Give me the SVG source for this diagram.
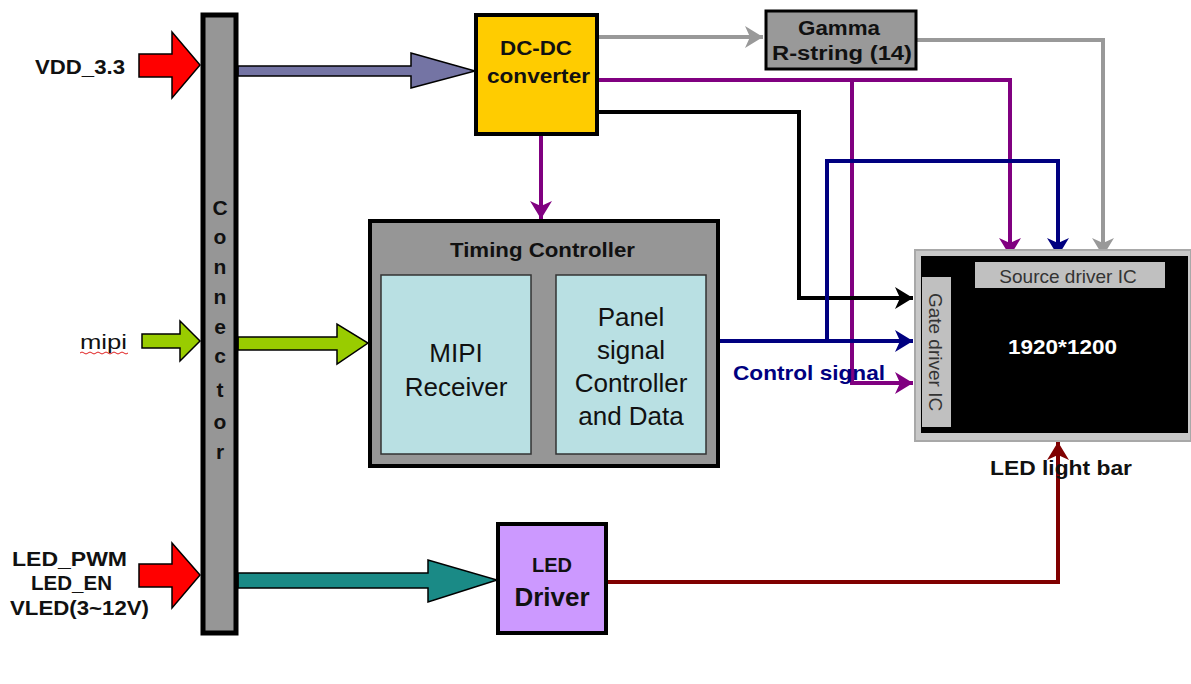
<svg xmlns="http://www.w3.org/2000/svg" width="1191" height="684" viewBox="0 0 1191 684">
<style>
text{font-family:"Liberation Sans",Arial,sans-serif;}
.b{font-weight:bold;fill:#111;}
.lbl{font-size:21px;font-weight:bold;fill:#111;}
.n{fill:#111;}
.box{stroke:#000;stroke-width:4;}
.ln{fill:none;stroke-width:4;stroke-linejoin:miter;}
.big{stroke:#000;stroke-width:1.5;stroke-linejoin:miter;}
</style>
<defs>
<marker id="aG" markerUnits="userSpaceOnUse" markerWidth="20" markerHeight="22" refX="18" refY="11" orient="auto"><path d="M0,0 L18,11 L0,22 L5,11 z" fill="#999"/></marker>
<marker id="aP" markerUnits="userSpaceOnUse" markerWidth="20" markerHeight="22" refX="18" refY="11" orient="auto"><path d="M0,0 L18,11 L0,22 L5,11 z" fill="#800080"/></marker>
<marker id="aK" markerUnits="userSpaceOnUse" markerWidth="20" markerHeight="22" refX="18" refY="11" orient="auto"><path d="M0,0 L18,11 L0,22 L5,11 z" fill="#000"/></marker>
<marker id="aN" markerUnits="userSpaceOnUse" markerWidth="20" markerHeight="22" refX="18" refY="11" orient="auto"><path d="M0,0 L18,11 L0,22 L5,11 z" fill="#000080"/></marker>
<marker id="aR" markerUnits="userSpaceOnUse" markerWidth="20" markerHeight="22" refX="18" refY="11" orient="auto"><path d="M0,0 L18,11 L0,22 L5,11 z" fill="#800000"/></marker>
</defs>

<g id="connectors">
  <path class="big" fill="#ff0000" d="M139,54 L172,54 L172,32 L200,65 L172,98 L172,77 L139,77 z"/>
  <path class="big" fill="#7474a4" d="M238,66 L411,66 L411,53 L475,71 L411,88 L411,76 L238,76 z"/>
  <path class="big" fill="#99cc00" d="M142,334 L180,334 L180,321 L200,341 L180,361 L180,348 L142,348 z"/>
  <path class="big" fill="#99cc00" d="M238,337 L337,337 L337,324 L368,343 L337,364 L337,350 L238,350 z"/>
  <path class="big" fill="#ff0000" d="M139,564 L172,564 L172,543 L200,575 L172,608 L172,587 L139,587 z"/>
  <path class="big" fill="#1a8a86" d="M238,573 L428,573 L428,560 L497,580 L428,602 L428,588 L238,588 z"/>
  <path class="ln" stroke="#999" d="M598,37 L763,37" marker-end="url(#aG)"/>
  <path class="ln" stroke="#999" d="M917,40 L1103,40 L1103,256" marker-end="url(#aG)"/>
  <path class="ln" stroke="#800080" d="M598,80 L1010,80 L1010,256" marker-end="url(#aP)"/>
  <path class="ln" stroke="#800080" d="M852,80 L852,383 L913,383" marker-end="url(#aP)"/>
  <path class="ln" stroke="#800080" d="M541,135 L541,219" marker-end="url(#aP)"/>
  <path class="ln" stroke="#000" d="M598,112 L799,112 L799,298 L913,298" marker-end="url(#aK)"/>
  <path class="ln" stroke="#000080" d="M718,341 L913,341" marker-end="url(#aN)"/>
  <path class="ln" stroke="#000080" d="M827,341 L827,161 L1058,161 L1058,256" marker-end="url(#aN)"/>
  <path class="ln" stroke="#800000" stroke-width="5" d="M607,582 L1058,582 L1058,442" marker-end="url(#aR)"/>
  <text x="733" y="380" font-size="21" font-weight="bold" fill="#000080" textLength="152" lengthAdjust="spacingAndGlyphs">Control signal</text>
</g>

<g id="labels">
  <text class="lbl" x="35" y="74" textLength="90" lengthAdjust="spacingAndGlyphs">VDD_3.3</text>
  <text x="80" y="349" font-size="21" class="n" textLength="47" lengthAdjust="spacingAndGlyphs">mipi</text>
  <path d="M80,353 q2,-2 4,0 t4,0 t4,0 t4,0 t4,0 t4,0 t4,0 t4,0 t4,0 t4,0 t4,0 t4,0" fill="none" stroke="#e02020" stroke-width="1"/>
  <text class="lbl" x="12" y="566" textLength="115" lengthAdjust="spacingAndGlyphs">LED_PWM</text>
  <text class="lbl" x="31" y="590" textLength="81" lengthAdjust="spacingAndGlyphs">LED_EN</text>
  <text class="lbl" x="10" y="615" textLength="139" lengthAdjust="spacingAndGlyphs">VLED(3~12V)</text>
</g>

<g id="connector">
  <rect x="203" y="15" width="33" height="618" fill="#969696" stroke="#000" stroke-width="5"/>
  <g class="b" font-size="21" text-anchor="middle">
    <text x="220" y="215">C</text><text x="220" y="244">o</text><text x="220" y="274">n</text>
    <text x="220" y="304">n</text><text x="220" y="334">e</text><text x="220" y="363">c</text>
    <text x="220" y="397">t</text><text x="220" y="429">o</text><text x="220" y="459">r</text>
  </g>
</g>

<g id="dcdc">
  <rect class="box" x="476" y="15" width="121" height="119" fill="#ffcc00"/>
  <text class="b" x="500" y="55" font-size="20" textLength="72" lengthAdjust="spacingAndGlyphs">DC-DC</text>
  <text class="b" x="487" y="83" font-size="20" textLength="103" lengthAdjust="spacingAndGlyphs">converter</text>
</g>

<g id="gamma">
  <rect x="766" y="11" width="150" height="58" fill="#999" stroke="#000" stroke-width="3"/>
  <text class="b" x="798" y="35" font-size="20" textLength="82" lengthAdjust="spacingAndGlyphs">Gamma</text>
  <text class="b" x="772" y="60" font-size="20" textLength="140" lengthAdjust="spacingAndGlyphs">R-string (14)</text>
</g>

<g id="tcon">
  <rect class="box" x="370" y="221" width="348" height="245" fill="#969696"/>
  <text class="b" x="450" y="257" font-size="20" textLength="185" lengthAdjust="spacingAndGlyphs">Timing Controller</text>
  <g id="mipi-rx">
    <rect x="381" y="275" width="150" height="179" fill="#b9e0e3" stroke="#333" stroke-width="1.5"/>
    <text x="456" y="362" font-size="26" text-anchor="middle" class="n">MIPI</text>
    <text x="456" y="396" font-size="26" text-anchor="middle" class="n">Receiver</text>
  </g>
  <g id="panel-ctrl">
    <rect x="556" y="275" width="150" height="179" fill="#b9e0e3" stroke="#333" stroke-width="1.5"/>
    <text x="631" y="326" font-size="26" text-anchor="middle" class="n">Panel</text>
    <text x="631" y="359" font-size="26" text-anchor="middle" class="n">signal</text>
    <text x="631" y="392" font-size="26" text-anchor="middle" class="n">Controller</text>
    <text x="631" y="425" font-size="26" text-anchor="middle" class="n">and Data</text>
  </g>
</g>

<g id="panel">
  <rect x="915" y="250" width="276" height="191" fill="#c8c8c8" stroke="#a8a8a8" stroke-width="2"/>
  <rect x="921" y="256" width="267" height="177" fill="#000"/>
  <g id="source-ic">
    <rect x="975" y="262" width="190" height="26" fill="#c0c0c0"/>
    <text x="1068" y="283" font-size="19" text-anchor="middle" fill="#333">Source driver IC</text>
  </g>
  <g id="gate-ic">
    <rect x="922" y="277" width="29" height="150" fill="#c0c0c0"/>
    <text transform="translate(929,352) rotate(90)" font-size="19" text-anchor="middle" fill="#333">Gate driver IC</text>
  </g>
  <text x="1008" y="354" font-size="21" font-weight="bold" fill="#fff" textLength="109" lengthAdjust="spacingAndGlyphs">1920*1200</text>
  <text class="b" x="990" y="475" font-size="21" textLength="142" lengthAdjust="spacingAndGlyphs">LED light bar</text>
</g>

<g id="led-driver">
  <rect class="box" x="498" y="524" width="108" height="109" fill="#cc99ff"/>
  <text class="b" x="552" y="572" font-size="20" text-anchor="middle">LED</text>
  <text class="b" x="552" y="606" font-size="26" text-anchor="middle">Driver</text>
</g>
</svg>
